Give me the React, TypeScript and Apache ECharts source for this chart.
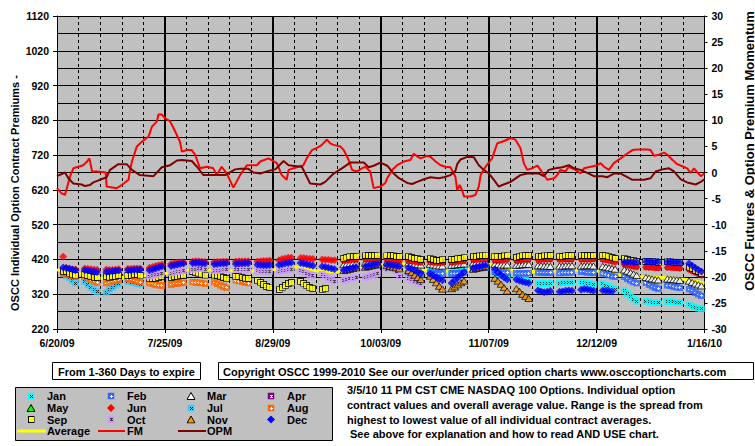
import React, { useEffect, useRef } from "react";
import * as echarts from "echarts";

const xLabels = ["6/20/09", "7/25/09", "8/29/09", "10/03/09", "11/07/09", "12/12/09", "1/16/10"];
const leftTitle = "OSCC Individual Option Contract Premiums -";
const rightTitle = "OSCC Futures & Option Premium Momentum";
const fromText = "From 1-360 Days to expire";
const copyrightText = "Copyright OSCC 1999-2010 See our over/under priced option charts www.osccoptioncharts.com";
const noteLines = [
  "3/5/10 11 PM CST CME NASDAQ 100 Options. Individual option",
  "contract values and overall average value. Range is the spread from",
  "highest to lowest value of all individual contract averages.",
  "See above for explanation and how to read AND USE chart.",
];

const _ = null;
// weekly values (Mon..Fri), first week index given by *From
const janFrom = 17;
const janWeeks = [[388,386,385,384,383],[384,385,386,386,387],[396,396,397,397,397],[380,378,376,374,372],[372,368,364,360,358],[352,350,350,351,352],[352,353,354,354,355],[355,354,352,350,348],[350,346,342,338,334],[330,322,314,306,300],[300,298,297,296,295],[299,298,298,297,296],[290,286,283,280,278]];
const febFrom = 16;
const febWeeks = [[380,379,378,378,377],[382,381,380,380,380],[379,380,381,382,383],[395,396,397,397,397],[384,383,383,382,382],[381,380,380,380,381],[383,383,382,382,382],[381,382,382,383,383],[384,384,383,383,382],[380,378,375,372,370],[370,365,360,355,352],[353,348,343,339,336],[346,344,342,340,338],[335,330,325,320,315]];
const marFrom = 13;
const marWeeks = [[405,407,408,409,409],[410,411,411,410,410],[412,411,410,409,408],[410,408,406,405,404],[406,404,402,401,401],[403,404,405,406,407],[410,411,412,412,412],[406,405,404,404,404],[403,404,405,406,406],[402,402,401,401,400],[401,401,402,402,402],[401,402,402,402,401],[400,398,396,394,392],[390,386,382,378,374],[368,366,364,362,361],[364,363,362,361,360],[358,354,350,347,344]];
const aprFrom = 13;
const aprWeeks = [[416,417,418,419,419],[420,420,421,421,421],[419,418,417,417,416],[415,414,413,412,411],[412,411,410,410,410],[411,412,413,414,415],[418,419,419,420,420],[417,417,418,419,419],[417,418,419,420,420],[418,419,419,420,420],[419,419,420,420,420],[419,420,420,420,421],[419,418,416,414,412],[405,403,401,399,398],[397,396,396,395,395],[396,396,395,395,394],[390,386,382,378,374]];
const mayFrom = 13;
const mayWeeks = [[416,418,418,419,420],[420,421,421,422,421],[419,418,418,417,416],[415,414,413,413,412],[412,411,410,410,411],[411,412,414,414,415],[418,419,420,420,421],[417,418,418,419,420],[417,418,419,420,421],[418,419,420,420,421],[419,420,420,421,421],[420,420,421,421,421],[419,418,417,415,413],[406,403,402,400,398],[398,397,396,396,395],[396,396,396,395,394],[391,387,382,378,375]];
const junFrom = 0;
const junWeeks = [[428,396,394,392,391],[394,393,392,391,390],[391,390,390,391,392],[393,393,394,394,394],[396,398,401,403,405],[407,409,411,412,412],[414,415,415,414,413],[412,413,413,414,414],[414,415,415,415,415],[414,415,416,416,417],[418,421,423,425,425],[424,424,423,422,421],[420,419,419,418,418],[417,418,419,420,420],[421,421,422,422,422],[420,419,418,418,417],[416,415,414,413,412],[413,412,411,411,411],[412,413,414,415,416],[419,420,420,421,421],[418,418,419,420,420],[418,419,420,421,421],[419,420,420,421,421],[420,420,421,421,421],[420,421,421,421,422],[420,419,417,415,413],[406,404,402,400,399],[398,397,397,396,396],[397,397,396,396,395],[391,387,383,379,375]];
const julFrom = 0;
const julWeeks = [[378,374,368,360,352],[356,348,340,333,327],[326,333,340,346,350],[356,355,353,351,349]];
const augFrom = 0;
const augWeeks = [[380,378,375,372,370],[370,366,361,357,354],[352,355,358,360,362],[364,362,360,357,355],[352,350,348,346,345],[348,350,351,352,353],[355,354,353,352,350],[355,350,346,342,338],[360,358,356,354,352]];
const sepFrom = 0;
const sepWeeks = [[386,384,381,378,375],[378,374,371,369,367],[370,369,370,372,373],[374,375,376,376,375],[366,365,366,368,370],[368,370,372,373,374],[384,382,380,378,375],[375,373,370,368,366],[372,370,368,366,365],[360,355,348,342,338],[333,340,346,351,355],[357,352,346,340,336],[334,337,_,_,_],[424,427,428,428,428],[430,431,431,430,430],[430,431,430,429,429],[428,426,424,422,420],[422,420,418,418,419],[420,421,422,424,425],[428,429,430,430,430],[428,428,429,430,430],[427,428,430,431,432],[428,429,430,430,431],[428,429,430,431,432],[430,431,431,432,432],[431,430,428,426,424],[422,420,418,416,415],[414,414,413,413,412],[413,413,412,411,410],[398,393,388,384,380]];
const octFrom = 4;
const octWeeks = [[372,374,376,378,380],[381,383,385,386,387],[390,392,393,393,392],[388,388,389,390,390],[390,391,391,391,390],[388,386,385,385,386],[385,387,389,391,392],[387,384,380,377,374],[378,372,366,362,358],[360,362,364,366,368],[368,371,374,377,380],[392,394,393,385,372],[366,362,358,354,350]];
const novFrom = 13;
const novWeeks = [[388,390,392,394,396],[398,400,402,404,405],[402,400,398,396,393],[388,382,375,368,362],[372,363,353,343,335],[336,341,347,353,358],[392,394,396,398,399],[366,358,349,339,329],[336,328,320,314,308]];
const decFrom = 0;
const decWeeks = [[397,395,393,391,389],[389,388,386,385,384],[384,385,386,387,388],[389,389,390,390,391],[389,391,394,397,400],[401,403,405,407,408],[409,410,410,409,408],[406,407,408,408,409],[407,408,408,409,409],[405,404,403,403,404],[404,406,408,410,411],[410,408,406,404,402],[400,398,396,394,392],[390,392,394,396,398],[400,402,404,406,407],[405,404,403,402,401],[397,393,389,385,381],[379,374,369,364,360],[352,360,368,376,384],[395,398,400,402,403],[392,383,375,368,362],[362,359,356,354,352],[331,328,326,327,329],[327,328,330,331,330],[333,335,334,332,330],[331,330,329,328,_],[412,413,413,412,412],[414,414,413,413,413],[413,413,412,412,411],[408,402,396,390,385]];

// [day since 6/20/09, value]
const avgLine = [[0,390],[6.9,380],[13.4,365],[20.4,368],[27.5,372],[34.5,378],[41.5,390],[48.6,390],[55.6,388],[62.7,387],[69.7,390],[76.7,399],[83.8,388],[90.8,384],[97.8,399],[105,405],[111.4,409],[118.4,390],[126,387],[133,390],[140,406],[147.1,390],[154.1,385],[161.2,387],[168.2,390],[175.2,387],[182.3,375],[189.3,370],[196.3,368],[203.4,363],[210,352]];
const fmLine = [[0,-3.0],[1.5,-4.0],[2.6,-4.3],[4.2,-0.8],[5.3,0.8],[6.9,1.1],[8.5,1.4],[9.6,2.0],[10.5,2.7],[11.4,0.2],[13.1,0.2],[15.8,0.0],[16.1,-2.7],[19.4,-3.0],[21.0,-2.4],[23.2,-1.4],[23.7,0.5],[24.3,2.1],[25.9,5.0],[27.5,5.9],[29.7,6.9],[30.8,8.8],[32.4,9.8],[32.9,11.1],[34.0,11.1],[35.1,10.4],[36.7,9.8],[38.3,7.9],[39.9,5.9],[40.5,4.0],[42.1,4.3],[43.7,4.3],[44.8,3.4],[46.4,0.8],[48.6,1.1],[50.7,0.8],[51.8,-0.5],[53.4,1.1],[55.1,-0.2],[57.2,-2.9],[59.4,-0.5],[61.6,1.4],[64.8,1.4],[65.9,2.1],[68.6,2.7],[71.3,1.8],[72.9,-0.5],[74.5,-1.4],[75.1,0.5],[76.7,0.8],[78.3,1.1],[79.9,1.4],[81.0,2.7],[82.7,4.3],[84.3,4.7],[85.9,5.3],[87.5,6.3],[88.6,5.6],[89.7,5.3],[91.9,5.0],[93.0,4.3],[94.6,2.4],[95.7,0.5],[97.3,0.2],[98.9,0.8],[100.0,1.1],[101.6,0.2],[102.7,-3.0],[104.9,-2.7],[106.5,-2.0],[107.1,-1.1],[108.7,0.5],[110.3,1.4],[112.5,2.1],[114.6,2.4],[115.7,3.6],[116.8,3.1],[117.9,2.7],[120.0,3.2],[121.1,3.0],[122.8,2.1],[124.4,1.4],[126.0,1.1],[127.6,1.0],[129.2,-0.8],[129.8,-3.4],[130.6,-2.4],[131.4,-3.4],[132.0,-4.6],[134.1,-4.6],[135.7,-4.3],[136.8,-2.7],[137.4,-0.5],[139.0,1.1],[141.1,2.7],[142.8,5.6],[144.4,5.9],[147.1,6.6],[148.7,6.3],[150.3,4.7],[151.4,1.8],[152.5,0.5],[154.1,0.8],[155.8,1.3],[156.8,0.5],[159.0,-1.4],[161.2,-1.1],[162.2,-0.5],[163.3,0.5],[164.9,0.2],[166.0,1.1],[168.2,0.5],[169.8,-0.2],[170.9,0.8],[173.1,1.1],[175.2,1.4],[176.3,1.8],[177.4,1.1],[179.0,0.5],[180.6,1.8],[182.8,2.7],[184.4,3.4],[186.6,4.3],[188.2,4.4],[191.5,4.4],[192.5,4.3],[193.6,3.2],[195.2,3.4],[196.9,3.8],[198.0,3.4],[199.6,2.4],[201.2,1.6],[202.8,1.2],[204.4,0.8],[205.5,-0.1],[206.6,0.8],[207.7,0.0],[208.8,-0.7],[210,-0.2]];
const opmLine = [[0,-0.7],[2.6,0.0],[3.7,-1.1],[5.3,-2.1],[8.0,-2.3],[9.1,-2.6],[10.7,-2.4],[11.8,-1.9],[13.9,-1.4],[16.1,-0.9],[17.2,0.5],[19.9,1.6],[22.6,1.6],[24.3,0.5],[26.9,-0.5],[31.3,-0.7],[34.0,1.0],[36.7,1.4],[38.9,2.3],[40.5,2.4],[43.7,2.2],[45.4,1.1],[47.5,-0.5],[51.8,-0.5],[54.5,-0.5],[57.8,0.6],[59.4,0.7],[62.1,0.7],[63.7,0.0],[65.9,-0.2],[69.2,0.4],[70.8,0.6],[73.5,2.2],[75.1,1.4],[77.8,1.2],[79.4,1.1],[82.1,-2.1],[85.4,-2.3],[87.0,-1.8],[89.7,-0.2],[92.4,0.8],[95.1,1.9],[98.4,1.9],[99.5,1.9],[101.1,1.0],[102.7,1.3],[104.9,1.9],[107.1,1.3],[109.2,-0.2],[110.9,-1.1],[113.6,-2.0],[115.2,-2.2],[116.8,-1.8],[119.0,-1.3],[121.1,-0.9],[123.8,-1.1],[125.5,-0.9],[127.6,-0.5],[129.2,0.3],[129.8,1.6],[130.9,2.5],[133.0,3.0],[135.2,2.9],[136.8,1.4],[138.4,0.5],[140.1,-0.2],[141.7,-1.4],[143.3,-2.7],[144.4,-2.4],[147.1,-1.8],[150.3,-0.5],[152.5,-0.2],[156.3,-0.2],[157.9,-0.7],[159.5,0.5],[161.7,0.8],[163.9,1.0],[166.0,1.4],[167.7,0.8],[169.8,0.5],[172.5,-0.2],[174.1,-0.7],[176.9,-0.7],[178.5,-0.9],[180.6,-0.2],[182.8,-0.2],[185.0,-0.9],[186.6,-1.4],[190.4,-1.4],[192.5,-1.1],[194.2,0.2],[196.3,0.6],[198.5,0.8],[200.1,0.2],[202.3,-1.3],[204.4,-1.9],[207.1,-2.3],[208.8,-1.8],[210,-1.3]];

function weeklyPoints(from: number, weeks: (number | null)[][]) {
  const pts: number[][] = [];
  weeks.forEach((w, i) => {
    const k = from + i;
    w.forEach((v, j) => {
      if (v != null) pts.push([2 + 7 * k + j, v]);
    });
  });
  return pts;
}

const svgData = (w: number, h: number, body: string) =>
  "data:image/svg+xml;charset=utf-8," +
  encodeURIComponent(
    `<svg xmlns="http://www.w3.org/2000/svg" width="${w}" height="${h}" viewBox="0 0 ${w} ${h}">${body}</svg>`
  );

type Mk = { w: number; h: number; url: string };
const sqX = (c: string): Mk => ({ w: 7, h: 7, url: svgData(7, 7, `<rect width="7" height="7" fill="${c}"/><path shape-rendering="crispEdges" d="M2 2h1v1H2zM4 2h1v1H4zM3 3h1v1H3zM2 4h1v1H2zM4 4h1v1H4z" fill="#000"/>`) });
const sqPlus = (c: string): Mk => ({ w: 7, h: 7, url: svgData(7, 7, `<rect width="7" height="7" fill="${c}"/><path shape-rendering="crispEdges" d="M3 2h1v3H3zM2 3h3v1H2z" fill="#fff"/>`) });
const sqBox = (c: string): Mk => ({ w: 7, h: 7, url: svgData(7, 7, `<rect shape-rendering="crispEdges" x="0.5" y="0.5" width="6" height="6" fill="${c}" stroke="#000" stroke-width="1"/>`) });
const sqBar = (c: string, m: string): Mk => ({ w: 7, h: 7, url: svgData(7, 7, `<rect width="7" height="7" fill="${c}"/><path shape-rendering="crispEdges" d="M2 2h3v1H2zM3 3h1v1H3zM2 4h3v1H2z" fill="${m}"/>`) });
const tri = (c: string): Mk => ({ w: 9, h: 8, url: svgData(9, 8, `<polygon points="4.5,0.5 8.5,7.5 0.5,7.5" fill="${c}" stroke="#000" stroke-width="1"/>`) });
const dia = (c: string): Mk => ({ w: 8, h: 8, url: svgData(8, 8, `<polygon points="4,0 8,4 4,8 0,4" fill="${c}"/>`) });
const small = (m: Mk, s: number): Mk => ({ w: s, h: s, url: m.url });

const specs = [
  { name: "Jan", from: janFrom, weeks: janWeeks, mk: sqX("#00FFFF") },
  { name: "Feb", from: febFrom, weeks: febWeeks, mk: sqPlus("#3366FF") },
  { name: "Mar", from: marFrom, weeks: marWeeks, mk: tri("#FFFFFF") },
  { name: "Apr", from: aprFrom, weeks: aprWeeks, mk: sqBar("#800080", "#FFFFFF"), hide: 5 },
  { name: "May", from: mayFrom, weeks: mayWeeks, mk: tri("#00FF00"), hide: 5 },
  { name: "Jun", from: junFrom, weeks: junWeeks, mk: dia("#FF0000") },
  { name: "Jul", from: julFrom, weeks: julWeeks, mk: sqX("#33CCFF") },
  { name: "Aug", from: augFrom, weeks: augWeeks, mk: sqPlus("#FF6600") },
  { name: "Sep", from: sepFrom, weeks: sepWeeks, mk: sqBox("#FFFF00") },
  { name: "Oct", from: octFrom, weeks: octWeeks, mk: sqBar("#CC99FF", "#333333") },
  { name: "Nov", from: novFrom, weeks: novWeeks, mk: tri("#FF9900") },
  { name: "Dec", from: decFrom, weeks: decWeeks, mk: dia("#0000FF") },
];

const FONT = "'Liberation Sans', Arial, Helvetica, sans-serif";

export default function App() {
  const ref = useRef<HTMLDivElement>(null);
  useEffect(() => {
    document.body.style.margin = "0";
    if (!ref.current) return;
    const chart = echarts.init(ref.current, undefined, { renderer: "svg" });

    const scatterSeries = specs.map((s: any) => {
      const m: Mk = s.hide ? small(s.mk, s.hide) : s.mk;
      return {
        type: "scatter",
        name: s.name,
        xAxisIndex: 0,
        yAxisIndex: 0,
        data: weeklyPoints(s.from, s.weeks),
        symbol: "image://" + m.url,
        symbolSize: [m.w, m.h],
        z: 3,
        silent: true,
      };
    });

    const txt = { fontFamily: FONT, fontWeight: "bold", fontSize: 11, fill: "#000" };
    const graphic: any[] = [
      { type: "text", x: 15, y: 193, rotation: Math.PI / 2, style: { ...txt, text: leftTitle, fontSize: 11, align: "center", verticalAlign: "middle" } },
      { type: "text", x: 749, y: 151, rotation: Math.PI / 2, style: { ...txt, text: rightTitle, fontSize: 13, align: "center", verticalAlign: "middle" } },
      { type: "rect", shape: { x: 52.5, y: 362.5, width: 148, height: 17 }, style: { fill: "#FFFFFF", stroke: "#000", lineWidth: 1 } },
      { type: "text", x: 126.5, y: 371.5, style: { ...txt, text: fromText, align: "center", verticalAlign: "middle" } },
      { type: "rect", shape: { x: 218.5, y: 362.5, width: 535, height: 17 }, style: { fill: "#FFFFFF", stroke: "#000", lineWidth: 1 } },
      { type: "text", x: 223, y: 371.5, style: { ...txt, text: copyrightText, align: "left", verticalAlign: "middle" } },
      { type: "rect", shape: { x: 15.5, y: 387.5, width: 317, height: 53 }, style: { fill: "#C0C0C0", stroke: "#000", lineWidth: 1 } },
    ];
    const colMk = [31, 111, 191, 271];
    const colTx = [47, 127, 207, 287];
    const rowY = [396, 408, 419.5, 431];
    specs.forEach((s, i) => {
      const r = Math.floor(i / 4);
      const c = i % 4;
      const m = s.mk;
      graphic.push({ type: "image", style: { image: m.url, x: colMk[c] - m.w / 2, y: rowY[r] - m.h / 2, width: m.w, height: m.h } });
      graphic.push({ type: "text", x: colTx[c], y: rowY[r], style: { ...txt, text: s.name, align: "left", verticalAlign: "middle" } });
    });
    const lineItems = [
      { name: "Average", color: "#FFFF00", width: 3, x1: 17, x2: 46 },
      { name: "FM", color: "#FF0000", width: 2, x1: 98, x2: 125 },
      { name: "OPM", color: "#800000", width: 2, x1: 178, x2: 206 },
    ];
    lineItems.forEach((li, c) => {
      graphic.push({ type: "line", shape: { x1: li.x1, y1: rowY[3], x2: li.x2, y2: rowY[3] }, style: { stroke: li.color, lineWidth: li.width } });
      graphic.push({ type: "text", x: colTx[c], y: rowY[3], style: { ...txt, text: li.name, align: "left", verticalAlign: "middle" } });
    });
    noteLines.forEach((t, i) => {
      graphic.push({ type: "text", x: i === 3 ? 350 : 347, y: 390 + i * 14.8, style: { ...txt, text: t, align: "left", verticalAlign: "middle" } });
    });

    const axisLabel = { color: "#000", fontFamily: FONT, fontWeight: "bold", fontSize: 10.5 };

    chart.setOption({
      animation: false,
      backgroundColor: "#FFFFFF",
      grid: { left: 57, top: 16, width: 647.5, height: 313, show: true, backgroundColor: "#C0C0C0", borderWidth: 0, containLabel: false },
      xAxis: {
        type: "value",
        min: 0,
        max: 210,
        interval: 35,
        axisLine: { show: true, onZero: false, lineStyle: { color: "#000", width: 1 } },
        axisTick: { show: true, length: 4, lineStyle: { color: "#000" } },
        axisLabel: { ...axisLabel, margin: 8, formatter: (v: number) => xLabels[Math.round(v / 35)] || "" },
        splitLine: { show: true, showMinLine: false, showMaxLine: false, lineStyle: { color: "#000", width: 2 } },
        minorTick: { show: false, splitNumber: 5 },
        minorSplitLine: { show: true, lineStyle: { color: "#000", width: 1, type: [3, 3] } },
      },
      yAxis: [
        {
          type: "value",
          position: "left",
          min: 220,
          max: 1120,
          interval: 100,
          axisLine: { show: true, onZero: false, lineStyle: { color: "#000", width: 1 } },
          axisTick: { show: true, length: 4, lineStyle: { color: "#000" } },
          axisLabel: { ...axisLabel, margin: 8, formatter: (v: number) => String(v) },
          splitLine: { show: true, lineStyle: { color: "#000", width: 1 } },
          minorTick: { show: false, splitNumber: 2 },
          minorSplitLine: { show: true, lineStyle: { color: "#000", width: 1 } },
        },
        {
          type: "value",
          position: "right",
          min: -30,
          max: 30,
          interval: 5,
          axisLine: { show: true, onZero: false, lineStyle: { color: "#000", width: 1 } },
          axisTick: { show: true, length: 3, lineStyle: { color: "#000" } },
          axisLabel: { ...axisLabel, margin: 7, formatter: (v: number) => String(v) },
          splitLine: { show: false },
        },
      ],
      graphic,
      series: [
        {
          type: "line",
          name: "Average",
          data: avgLine,
          yAxisIndex: 0,
          symbol: "none",
          showSymbol: false,
          lineStyle: { color: "#FFFF00", width: 3 },
          z: 2,
          silent: true,
        },
        ...scatterSeries,
        {
          type: "line",
          name: "FM",
          data: fmLine,
          yAxisIndex: 1,
          symbol: "none",
          showSymbol: false,
          lineStyle: { color: "#FF0000", width: 2 },
          z: 4,
          silent: true,
        },
        {
          type: "line",
          name: "OPM",
          data: opmLine,
          yAxisIndex: 1,
          symbol: "none",
          showSymbol: false,
          lineStyle: { color: "#800000", width: 2 },
          z: 4,
          silent: true,
        },
      ],
    });
    return () => chart.dispose();
  }, []);
  return <div ref={ref} style={{ width: 755, height: 446 }} />;
}
